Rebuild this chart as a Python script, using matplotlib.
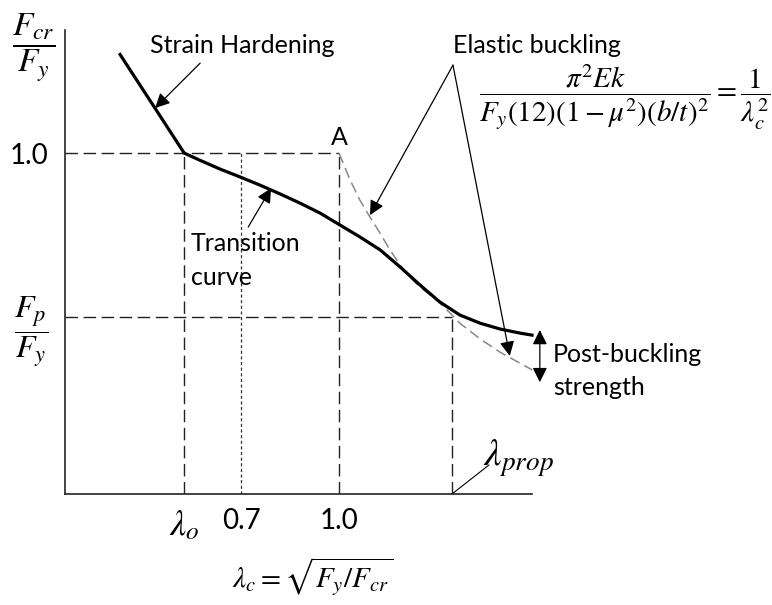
import numpy as np
import matplotlib.pyplot as plt

plt.rcParams['font.family'] = ['Lato', 'DejaVu Sans']
plt.rcParams['mathtext.fontset'] = 'stix'

# Slenderness markers on the horizontal axis
lam_o = 0.526
lam_07 = 0.70
lam_1 = 1.00
lam_prop = 1.346
fp_fy = 0.519

# Strain hardening branch (lambda, Fcr/Fy)
sh_lam = [0.327, 0.526]
sh_f = [1.293, 1.000]

# Inelastic transition curve and its post-buckling tail
tr_lam = [0.526, 0.574, 0.636, 0.697, 0.758, 0.820, 0.881, 0.942, 1.003,
          1.064, 1.126, 1.187, 1.248, 1.309, 1.370, 1.432, 1.493, 1.554, 1.591]
tr_f = [1.000, 0.979, 0.953, 0.930, 0.906, 0.880, 0.853, 0.824, 0.789,
        0.754, 0.716, 0.666, 0.613, 0.563, 0.525, 0.501, 0.484, 0.472, 0.466]

# Elastic buckling curve starting at point A
el_lam = [1.000, 1.034, 1.064, 1.095, 1.126, 1.156, 1.187, 1.217, 1.248,
          1.309, 1.340, 1.370, 1.432, 1.493, 1.554, 1.591]
el_f = [1.000, 0.921, 0.862, 0.812, 0.765, 0.716, 0.672, 0.636, 0.607,
        0.560, 0.531, 0.501, 0.455, 0.416, 0.384, 0.364]

fig = plt.figure(figsize=(7.72, 6.05), dpi=100)
ax = fig.add_axes([65 / 772, 111 / 605, 467 / 772, 464 / 605])
ax.set_xlim(0.161, 1.591)
ax.set_ylim(0, 1.361)
for s in ['top', 'right']:
    ax.spines[s].set_visible(False)
for s in ['left', 'bottom']:
    ax.spines[s].set_linewidth(1.2)
    ax.spines[s].set_color('#222222')

dash = dict(color='#222222', lw=1.0, dashes=(9, 4))
ax.plot([0.161, lam_1], [1.0, 1.0], **dash)
ax.plot([lam_o, lam_o], [0, 1.0], **dash)
ax.plot([lam_1, lam_1], [0, 1.0], **dash)
ax.plot([0.161, lam_prop], [fp_fy, fp_fy], **dash)
ax.plot([lam_prop, lam_prop], [0, fp_fy], **dash)
ax.plot([lam_07, lam_07], [0, 1.0], color='#333333', lw=0.9, dashes=(2.5, 2))

ax.plot(el_lam, el_f, color='#888888', lw=1.1, dashes=(7, 3.5), clip_on=False)
ax.plot(sh_lam, sh_f, color='black', lw=2.3, solid_capstyle='butt')
ax.plot(tr_lam, tr_f, color='black', lw=2.3, clip_on=False,
        solid_joinstyle='round')

# Axis ticks
ax.set_xticks([lam_o, lam_07, lam_1])
ax.set_xticklabels([r'$\lambda_o$', '0.7', '1.0'])
ax.set_yticks([fp_fy, 1.0])
ax.set_yticklabels([r'$\dfrac{F_p}{F_y}$', '1.0'])
ax.tick_params(length=0, labelsize=20, pad=12)
ax.tick_params(axis='x', pad=10)
ax.get_xticklabels()[0].set_fontsize(26)
ax.get_yticklabels()[0].set_fontsize(23)

txt = dict(fontsize=18, color='black', va='center')
arr = dict(arrowstyle='-|>', color='black', lw=0.9, mutation_scale=22,
           shrinkA=0, shrinkB=0)

ax.text(0.065, 1.308, r'$\dfrac{F_{cr}}{F_y}$', fontsize=24, ha='center',
        va='center', clip_on=False)

ax.text(0.421, 1.317, 'Strain Hardening', ha='left', **txt)
ax.annotate('', xy=(0.437, 1.132), xytext=(0.575, 1.264), arrowprops=arr)

ax.text(0.547, 0.736, 'Transition', ha='left', **txt)
ax.text(0.547, 0.636, 'curve', ha='left', **txt)
ax.annotate('', xy=(0.792, 0.897), xytext=(0.722, 0.783), arrowprops=arr)

ax.text(1.0, 1.047, 'A', ha='center', **txt)

ax.text(1.349, 1.317, 'Elastic buckling', ha='left', clip_on=False, **txt)
ax.annotate('', xy=(1.095, 0.818), xytext=(1.349, 1.258), arrowprops=arr)
ax.annotate('', xy=(1.523, 0.405), xytext=(1.349, 1.258), arrowprops=arr,
            annotation_clip=False)
ax.text(1.875, 1.164,
        r'$\dfrac{\pi^2 Ek}{F_y(12)(1-\mu^2)(b/t)^2}=\dfrac{1}{\lambda_c^2}$',
        fontsize=21, ha='center', va='center', clip_on=False)

ax.annotate('', xy=(1.615, 0.328), xytext=(1.615, 0.481),
            arrowprops=dict(arr, arrowstyle='<|-|>'), annotation_clip=False)
ax.text(1.655, 0.408, 'Post-buckling', ha='left', clip_on=False, **txt)
ax.text(1.655, 0.311, 'strength', ha='left', clip_on=False, **txt)

ax.plot([lam_prop, 1.459], [0, 0.085], color='black', lw=0.8)
ax.text(1.441, 0.106, r'$\lambda_{prop}$', fontsize=28, ha='left',
        va='center', clip_on=False)

ax.text(0.531, -0.179, r'$\lambda_c=\sqrt{F_y/F_{cr}}$', fontsize=21,
        ha='center', va='center', transform=ax.transAxes)

fig.savefig('out.png', dpi=100)
